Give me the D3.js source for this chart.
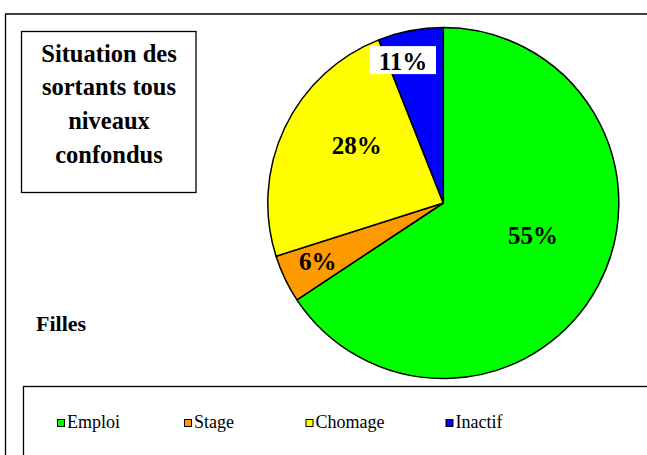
<!DOCTYPE html>
<html>
<head>
<meta charset="utf-8">
<script src="https://cdn.jsdelivr.net/npm/d3@7"></script>
<style>
  body { margin: 0; background: #fff; }
</style>
</head>
<body>
<script>
// catégories et valeurs (part de la tarte)
var categories = ["Emploi", "Stage", "Chomage", "Inactif"];
var shares = [65.7, 4.4, 23.9, 6.0];
var pctLabels = ["55%", "6%", "28%", "11%"];
var colors = ["#00ff00", "#ff9900", "#ffff00", "#0000ff"];
var titleLines = ["Situation des", "sortants tous", "niveaux", "confondus"];
var subTitle = "Filles";

var fontName = "Liberation Serif";
var width = 647, height = 455;
var cx = 443.3, cy = 203, radius = 175.5;
var pctSize = 25;

var svg = d3.select("body").append("svg")
  .attr("width", width)
  .attr("height", height)
  .attr("font-family", fontName);

// cadre du graphique
svg.append("path")
  .attr("d", "M5.5," + height + "V14H" + width)
  .attr("fill", "none")
  .attr("stroke", "#000")
  .attr("stroke-width", 1.3);

// boîte du titre
svg.append("rect")
  .attr("x", 21.5).attr("y", 31.5)
  .attr("width", 174.5).attr("height", 161)
  .attr("fill", "#fff").attr("stroke", "#000").attr("stroke-width", 1.3);

svg.selectAll("text.title")
  .data(titleLines)
  .enter().append("text")
  .attr("class", "title")
  .attr("x", 109)
  .attr("y", function(d, i) { return 61.5 + i * 33.7; })
  .attr("text-anchor", "middle")
  .attr("font-family", fontName)
  .attr("font-size", 24.5)
  .attr("font-weight", "bold")
  .text(function(d) { return d; });

svg.append("text")
  .attr("x", 36).attr("y", 331)
  .attr("font-family", fontName)
  .attr("font-size", 22)
  .attr("font-weight", "bold")
  .text(subTitle);

// tarte
var pie = d3.pie().sort(null).value(function(d) { return d; });
var arcs = pie(shares);
var arc = d3.arc().innerRadius(0).outerRadius(radius);

var g = svg.append("g")
  .attr("transform", "translate(" + cx + "," + cy + ")");

g.selectAll("path.slice")
  .data(arcs)
  .enter().append("path")
  .attr("class", "slice")
  .attr("d", arc)
  .attr("fill", function(d, i) { return colors[i]; })
  .attr("stroke", "#000")
  .attr("stroke-width", 1.5)
  .attr("stroke-linejoin", "round");

// position des étiquettes : angle du secteur + distance au centre
var labelRadius = [0.545, 0.79, 0.59, 0.835];
var labelAngleShift = [-0.14, 0.01, 0.14, -0.09];
function labelPos(d, i) {
  var a = (d.startAngle + d.endAngle) / 2 + labelAngleShift[i];
  var r = radius * labelRadius[i];
  return [r * Math.sin(a), -r * Math.cos(a)];
}

// fond blanc derrière l'étiquette "11%" (largeur estimée : chiffres 0.5em, % 1em)
var boxed = arcs.filter(function(d, i) { return i === 3; });
g.selectAll("rect.lblbg")
  .data(boxed)
  .enter().append("rect")
  .attr("class", "lblbg")
  .attr("x", function(d) { return labelPos(d, 3)[0] - (pctSize * 2 + 16) / 2; })
  .attr("y", function(d) { return labelPos(d, 3)[1] - 16; })
  .attr("width", pctSize * 2 + 16)
  .attr("height", 28)
  .attr("fill", "#fff");

g.selectAll("text.lbl")
  .data(arcs)
  .enter().append("text")
  .attr("class", "lbl")
  .attr("x", function(d, i) { return labelPos(d, i)[0]; })
  .attr("y", function(d, i) { return labelPos(d, i)[1] + 8; })
  .attr("text-anchor", "middle")
  .attr("font-family", fontName)
  .attr("font-size", pctSize)
  .attr("font-weight", "bold")
  .text(function(d, i) { return pctLabels[i]; });

// légende
svg.append("rect")
  .attr("x", 23.5).attr("y", 386.5)
  .attr("width", width).attr("height", 100)
  .attr("fill", "#fff").attr("stroke", "#000").attr("stroke-width", 1.3);

var legendX = d3.scaleOrdinal().domain(categories).range([57.5, 184.5, 306, 446]);

var items = svg.selectAll("g.item")
  .data(categories)
  .enter().append("g")
  .attr("class", "item")
  .attr("transform", function(d) { return "translate(" + legendX(d) + ",419.5)"; });

items.append("rect")
  .attr("width", 7).attr("height", 7)
  .attr("fill", function(d, i) { return colors[i]; })
  .attr("stroke", "#000").attr("stroke-width", 1);

items.append("text")
  .attr("x", 9.5).attr("y", 8.5)
  .attr("font-family", fontName)
  .attr("font-size", 18)
  .text(function(d) { return d; });
</script>
</body>
</html>
